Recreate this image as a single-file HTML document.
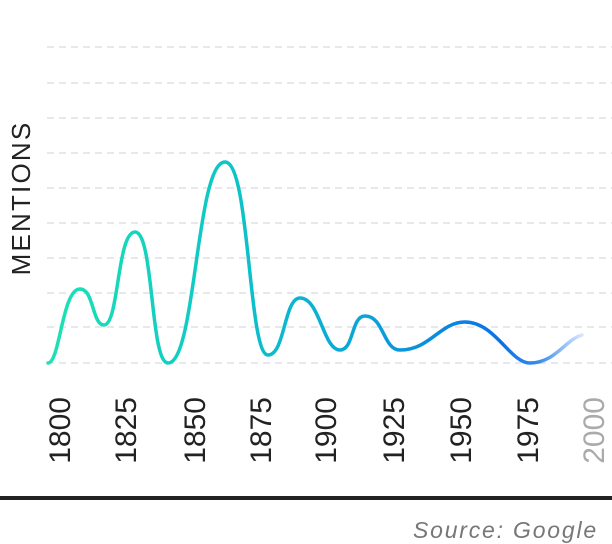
<!DOCTYPE html>
<html><head><meta charset="utf-8"><style>
html,body{margin:0;padding:0;background:#fff;}
svg{display:block;}
</style></head><body>
<svg width="612" height="544" viewBox="0 0 612 544" xmlns="http://www.w3.org/2000/svg">
<defs>
<linearGradient id="g" x1="48" y1="0" x2="582" y2="0" gradientUnits="userSpaceOnUse">
<stop offset="0" stop-color="#1de2b3"/>
<stop offset="0.35" stop-color="#0cc4c8"/>
<stop offset="0.6" stop-color="#0aa3d8"/>
<stop offset="0.85" stop-color="#0a72e8"/>
<stop offset="0.92" stop-color="#3a8cf0"/>
<stop offset="1" stop-color="#d6e6ff"/>
</linearGradient>
</defs>
<g stroke="#e6e8ec" stroke-width="2" stroke-dasharray="7,5">
<line x1="47" y1="47" x2="612" y2="47"/>
<line x1="47" y1="83" x2="612" y2="83"/>
<line x1="47" y1="118" x2="612" y2="118"/>
<line x1="47" y1="153" x2="612" y2="153"/>
<line x1="47" y1="188" x2="612" y2="188"/>
<line x1="47" y1="223" x2="612" y2="223"/>
<line x1="47" y1="258" x2="612" y2="258"/>
<line x1="47" y1="293" x2="612" y2="293"/>
<line x1="47" y1="327" x2="612" y2="327"/>
<line x1="47" y1="363" x2="612" y2="363"/>
</g>
<path fill="none" stroke="url(#g)" stroke-width="3.5" stroke-linecap="round"
d="M48,363 C60,363 62,289 80,289 C94,289 92,325 104,325 C119,325 117,232 135,232 C154,232 150,363 168,363 C196,363 196,162 225,162 C250,162 248,355 268,355 C285,355 284,298 300,298 C320,298 323,350 340,350 C354,350 351,316 365,316 C384,316 383,350 400,350 C430,350 440,322 465,322 C495,322 510,363 530,363 C555,363 565,340 582,335"/>
<text transform="translate(30,198) rotate(-90)" text-anchor="middle" font-family="Liberation Sans, sans-serif" font-size="26" letter-spacing="2.2" fill="#222">MENTIONS</text>
<g font-family="Liberation Sans, sans-serif" font-size="30" fill="#222" text-anchor="end">
<text transform="translate(70,397) rotate(-90)">1800</text>
<text transform="translate(136,397) rotate(-90)">1825</text>
<text transform="translate(205,397) rotate(-90)">1850</text>
<text transform="translate(271,397) rotate(-90)">1875</text>
<text transform="translate(336,397) rotate(-90)">1900</text>
<text transform="translate(404,397) rotate(-90)">1925</text>
<text transform="translate(471,397) rotate(-90)">1950</text>
<text transform="translate(538,397) rotate(-90)">1975</text>
<text transform="translate(604,397) rotate(-90)" fill="#aaa">2000</text>
</g>
<rect x="0" y="496" width="612" height="4" fill="#222"/>
<text x="598" y="538" text-anchor="end" font-family="Liberation Sans, sans-serif" font-style="italic" font-size="23" letter-spacing="1.8" fill="#777">Source: Google</text>
</svg>
</body></html>
